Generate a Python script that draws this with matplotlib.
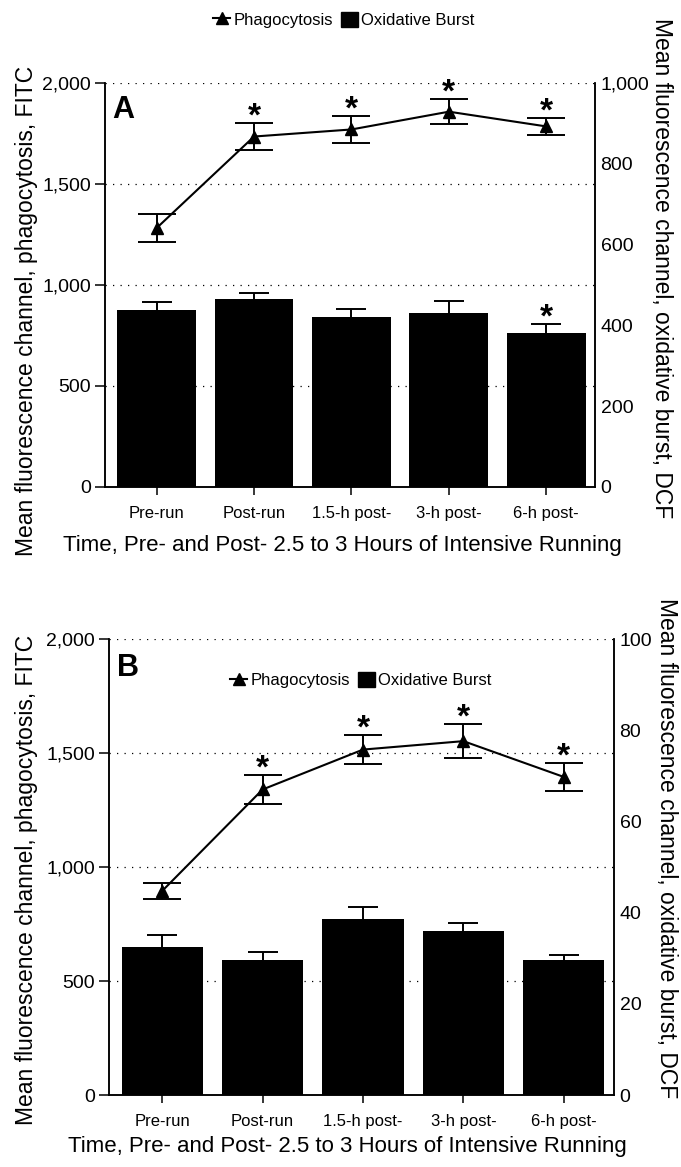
import matplotlib
matplotlib.use('Agg')
import matplotlib.pyplot as plt
from matplotlib.lines import Line2D
from matplotlib.patches import Patch
from matplotlib.ticker import FuncFormatter, MultipleLocator

plt.rcParams['font.family'] = ['Liberation Sans', 'DejaVu Sans']

# x categories, shared by both panels
categories = ['Pre-run', 'Post-run', '1.5-h post-', '3-h post-', '6-h post-']

# panel A: phagocytosis (FITC, left axis) and oxidative burst (DCF, right axis)
phago_a = [1282, 1735, 1770, 1858, 1785]
phago_a_err = [69, 67, 67, 62, 43]
phago_a_star = [False, True, True, True, True]
burst_a = [438, 465, 421, 431, 381]
burst_a_err = [20, 15, 20, 29, 22]
burst_a_star = [False, False, False, False, True]

# panel B
phago_b = [895, 1340, 1515, 1552, 1395]
phago_b_err = [35, 64, 63, 75, 62]
phago_b_star = [False, True, True, True, True]
burst_b = [32.5, 29.5, 38.6, 36.0, 29.7]
burst_b_err = [2.6, 1.9, 2.7, 1.8, 1.1]
burst_b_star = [False, False, False, False, False]

W, H = 681, 1167
fig = plt.figure(figsize=(W / 100, H / 100), dpi=100)


def px_axes(left, top, right, bottom):
    # axes placed by pixel box of the reference
    return fig.add_axes([left / W, 1 - bottom / H, (right - left) / W, (bottom - top) / H])


comma = FuncFormatter(lambda v, _: f'{int(round(v)):,}')
legend_handles = [Line2D([], [], color='black', marker='^', markersize=8, lw=1.5),
                  Patch(facecolor='black', edgecolor='black')]
legend_labels = ['Phagocytosis', 'Oxidative Burst']


def draw_panel(ax, phago, phago_err, phago_star, burst, burst_err, burst_star, burst_max, letter):
    ax2 = ax.twinx()
    x = list(range(len(categories)))

    # bars on the right scale, error bar only upwards
    ax2.bar(x, burst, width=0.81, color='black', zorder=2)
    eb = ax2.errorbar(x, burst, yerr=[[0] * len(burst), burst_err], fmt='none', ecolor='black',
                      elinewidth=1.4, capsize=11, capthick=1.4)
    eb[1][0].set_visible(False)
    for i, s in enumerate(burst_star):
        if s:
            ax2.annotate('*', (i, burst[i] + burst_err[i]), xytext=(0, -2), textcoords='offset points',
                         ha='center', va='baseline', fontsize=24, fontweight='bold')

    # line on the left scale, drawn above the bars
    ax.set_zorder(ax2.get_zorder() + 1)
    ax.patch.set_visible(False)
    for v in [500, 1000, 1500, 2000]:
        ax.axhline(v, color='black', lw=0.9, ls=(0, (1, 5)), zorder=0)
    ax.errorbar(x, phago, yerr=phago_err, color='black', marker='^', markersize=8.5, lw=1.5,
                elinewidth=1.4, capsize=14, capthick=1.4, zorder=3)
    for i, s in enumerate(phago_star):
        if s:
            ax.annotate('*', (i, phago[i] + phago_err[i]), xytext=(0, -2), textcoords='offset points',
                        ha='center', va='baseline', fontsize=24, fontweight='bold')

    ax.set_xlim(-0.53, 4.5)
    ax.set_ylim(0, 2000)
    ax2.set_ylim(0, burst_max)
    ax.yaxis.set_major_locator(MultipleLocator(500))
    ax2.yaxis.set_major_locator(MultipleLocator(burst_max / 5))
    ax.yaxis.set_major_formatter(comma)
    ax2.yaxis.set_major_formatter(comma)
    ax.set_xticks(x)
    ax.set_xticklabels(categories)

    for a in (ax, ax2):
        a.spines['top'].set_visible(False)
        for sp in a.spines.values():
            sp.set_linewidth(1.1)
    ax.tick_params(axis='y', direction='out', length=7, width=1.1, pad=3, labelsize=14)
    ax.tick_params(axis='x', direction='out', length=6, width=1.1, pad=8, labelsize=12)
    ax2.tick_params(axis='y', length=0, pad=4, labelsize=14)

    ax.text(0.015, 0.97, letter, transform=ax.transAxes, ha='left', va='top',
            fontsize=22, fontweight='bold')
    return ax2


xlabel = 'Time, Pre- and Post- 2.5 to 3 Hours of Intensive Running'
ylabel_left = 'Mean fluorescence channel, phagocytosis, FITC'
ylabel_right = 'Mean fluorescence channel, oxidative burst, DCF'

# panel A
ax_a = px_axes(105, 83, 595, 487)
ax_a2 = draw_panel(ax_a, phago_a, phago_a_err, phago_a_star, burst_a, burst_a_err, burst_a_star, 1000, 'A')
ax_a.set_xlabel(xlabel, fontsize=16, va='center')
ax_a.xaxis.set_label_coords(0.484, -0.144)
ax_a.set_ylabel(ylabel_left, fontsize=16.5, va='center')
ax_a.yaxis.set_label_coords(-0.161, 0.436)
ax_a2.set_ylabel(ylabel_right, fontsize=16.5, rotation=270, va='center')
ax_a2.yaxis.set_label_coords(1.135, 0.542)
fig.legend(legend_handles, legend_labels, loc='center', bbox_to_anchor=(344 / W, 1 - 20 / H), ncol=2,
           frameon=False, fontsize=12, handlelength=1.0, handleheight=1.0, handletextpad=0.2,
           columnspacing=0.5)

# panel B
ax_b = px_axes(109, 639, 614, 1095)
ax_b2 = draw_panel(ax_b, phago_b, phago_b_err, phago_b_star, burst_b, burst_b_err, burst_b_star, 100, 'B')
ax_b.set_xlabel(xlabel, fontsize=16, va='center')
ax_b.xaxis.set_label_coords(0.473, -0.114)
ax_b.set_ylabel(ylabel_left, fontsize=16.5, va='center')
ax_b.yaxis.set_label_coords(-0.164, 0.471)
ax_b2.set_ylabel(ylabel_right, fontsize=16.5, rotation=270, va='center')
ax_b2.yaxis.set_label_coords(1.103, 0.542)
ax_b.legend(legend_handles, legend_labels, loc='center', bbox_to_anchor=(0.499, 0.910), ncol=2,
            frameon=False, fontsize=12, handlelength=1.0, handleheight=1.0, handletextpad=0.2,
            columnspacing=0.5)

fig.savefig('out.png', dpi=100)
